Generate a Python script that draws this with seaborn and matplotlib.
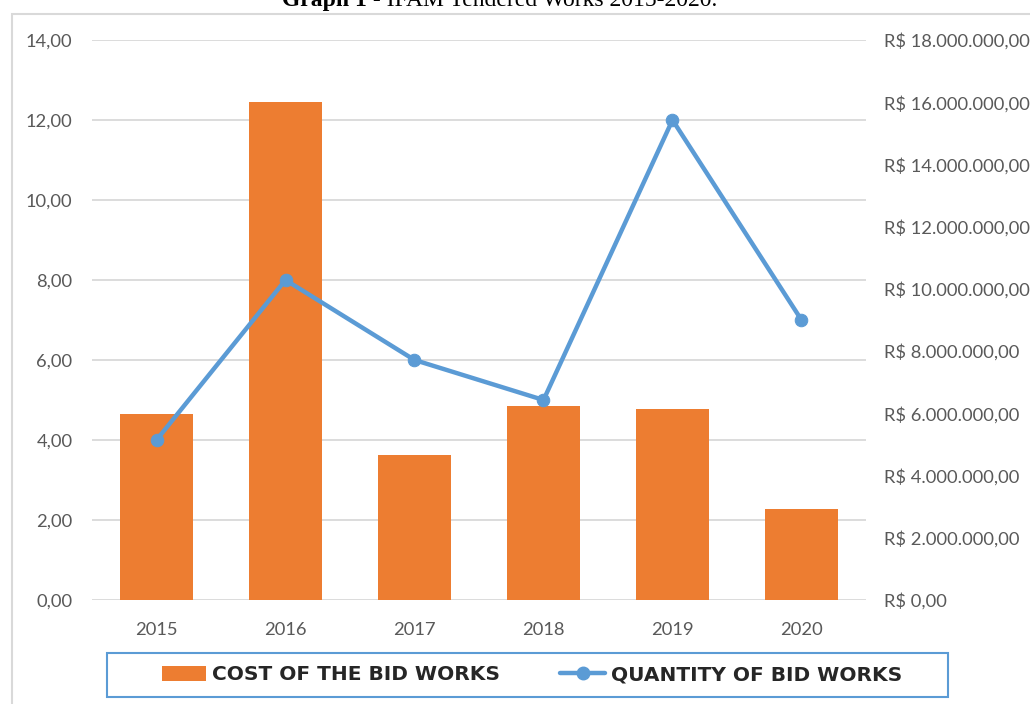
import matplotlib
matplotlib.use("Agg")
import matplotlib.pyplot as plt
from matplotlib.patches import Patch, Rectangle
from matplotlib.lines import Line2D
from matplotlib.ticker import FuncFormatter, MultipleLocator
import seaborn as sns
import pandas as pd

# Data
years = ["2015", "2016", "2017", "2018", "2019", "2020"]
cost_brl = [5990000, 16000000, 4670000, 6250000, 6150000, 2930000]
quantity = [4, 8, 6, 5, 12, 7]

title_bold = "Graph 1"
title_rest = " - IFAM Tendered Works 2015-2020."
cost_label = "COST OF THE BID WORKS"
qty_label = "QUANTITY OF BID WORKS"

ORANGE = "#ED7D31"
BLUE = "#5B9BD5"
GRID = "#D9D9D9"
TICK = "#595959"

sns.set_theme(style="white")
plt.rcParams["font.family"] = ["Lato", "DejaVu Sans"]

df = pd.DataFrame({"year": years, "cost": cost_brl, "qty": quantity})

fig = plt.figure(figsize=(10.3, 7.04), dpi=100)
fig.patch.set_facecolor("white")

rect = [92 / 1030, 1 - 600 / 704, (866 - 92) / 1030, (600 - 40) / 704]

# Base axes: left scale, gridlines
ax = fig.add_axes(rect)
# Bars on the currency scale (right)
ax_bar = ax.twinx()
# Line on the quantity scale (left), drawn on top
ax_line = ax.twinx()

sns.barplot(data=df, x="year", y="cost", ax=ax_bar, color=ORANGE,
            width=0.57, saturation=1, edgecolor="none")
sns.lineplot(data=df, x="year", y="qty", ax=ax_line, color=BLUE,
             linewidth=3.2, marker="o", markersize=9,
             markeredgecolor=BLUE, markerfacecolor=BLUE)

for a in (ax, ax_bar, ax_line):
    a.set_xlim(-0.5, 5.5)
    for s in a.spines.values():
        s.set_visible(False)
    a.set_xlabel("")
    a.set_ylabel("")

ax.set_ylim(0, 14)
ax_line.set_ylim(0, 14)
ax_bar.set_ylim(0, 18000000)

ax.set_xticks(range(len(years)))
ax.set_xticklabels(years)
ax.yaxis.set_major_locator(MultipleLocator(2))
ax.yaxis.set_major_formatter(FuncFormatter(lambda v, p: f"{v:.2f}".replace(".", ",")))
ax.grid(axis="y", color=GRID, linewidth=1.3)
ax.set_axisbelow(True)
ax.tick_params(axis="y", length=0, pad=14, labelsize=13.2, labelcolor=TICK)
ax.tick_params(axis="x", length=0, pad=16, labelsize=13.2, labelcolor=TICK)


def brl(v, p):
    s = f"{int(round(v)):,}".replace(",", ".")
    return f"R$ {s},00"


ax_bar.yaxis.set_major_locator(MultipleLocator(2000000))
ax_bar.yaxis.set_major_formatter(FuncFormatter(brl))
ax_bar.tick_params(axis="y", length=0, pad=13, labelsize=13.2, labelcolor=TICK)
ax_bar.tick_params(axis="x", bottom=False, labelbottom=False)
ax_bar.grid(False)

ax_line.set_yticks([])
ax_line.tick_params(axis="x", bottom=False, labelbottom=False)
ax_line.grid(False)
ax_line.patch.set_visible(False)
ax_bar.patch.set_visible(False)

# Outer chart frame
fig.add_artist(Rectangle((12 / 1030, -0.05), 1.2, 1 - 14 / 704 + 0.05,
                         transform=fig.transFigure, fill=False,
                         edgecolor=GRID, linewidth=1.5))

# Title
fig.text(367 / 1030, 1 - 6 / 704, title_bold, ha="right", va="baseline",
         family="Liberation Serif", fontweight="bold", fontsize=17, color="black")
fig.text(367 / 1030, 1 - 6 / 704, title_rest, ha="left", va="baseline",
         family="Liberation Serif", fontsize=17, color="black")

# Legend
handles = [
    Patch(facecolor=ORANGE, edgecolor="none"),
    Line2D([0], [0], color=BLUE, linewidth=3.2, marker="o", markersize=9),
]
leg = fig.legend(handles, [cost_label, qty_label], ncol=2, mode="expand",
                 loc="center",
                 bbox_to_anchor=(162 / 1030, 1 - 697 / 704, (902 - 162) / 1030, 44 / 704),
                 frameon=False, borderpad=0, borderaxespad=0,
                 handlelength=2.2, handleheight=0.7, handletextpad=0.3,
                 prop={"family": "DejaVu Sans", "weight": "bold", "size": 14.5})
fig.add_artist(Rectangle((107 / 1030, 1 - 697 / 704), (948 - 107) / 1030, 44 / 704,
                         transform=fig.transFigure, fill=False,
                         edgecolor=BLUE, linewidth=1.5))

fig.savefig("out.png", dpi=100)
